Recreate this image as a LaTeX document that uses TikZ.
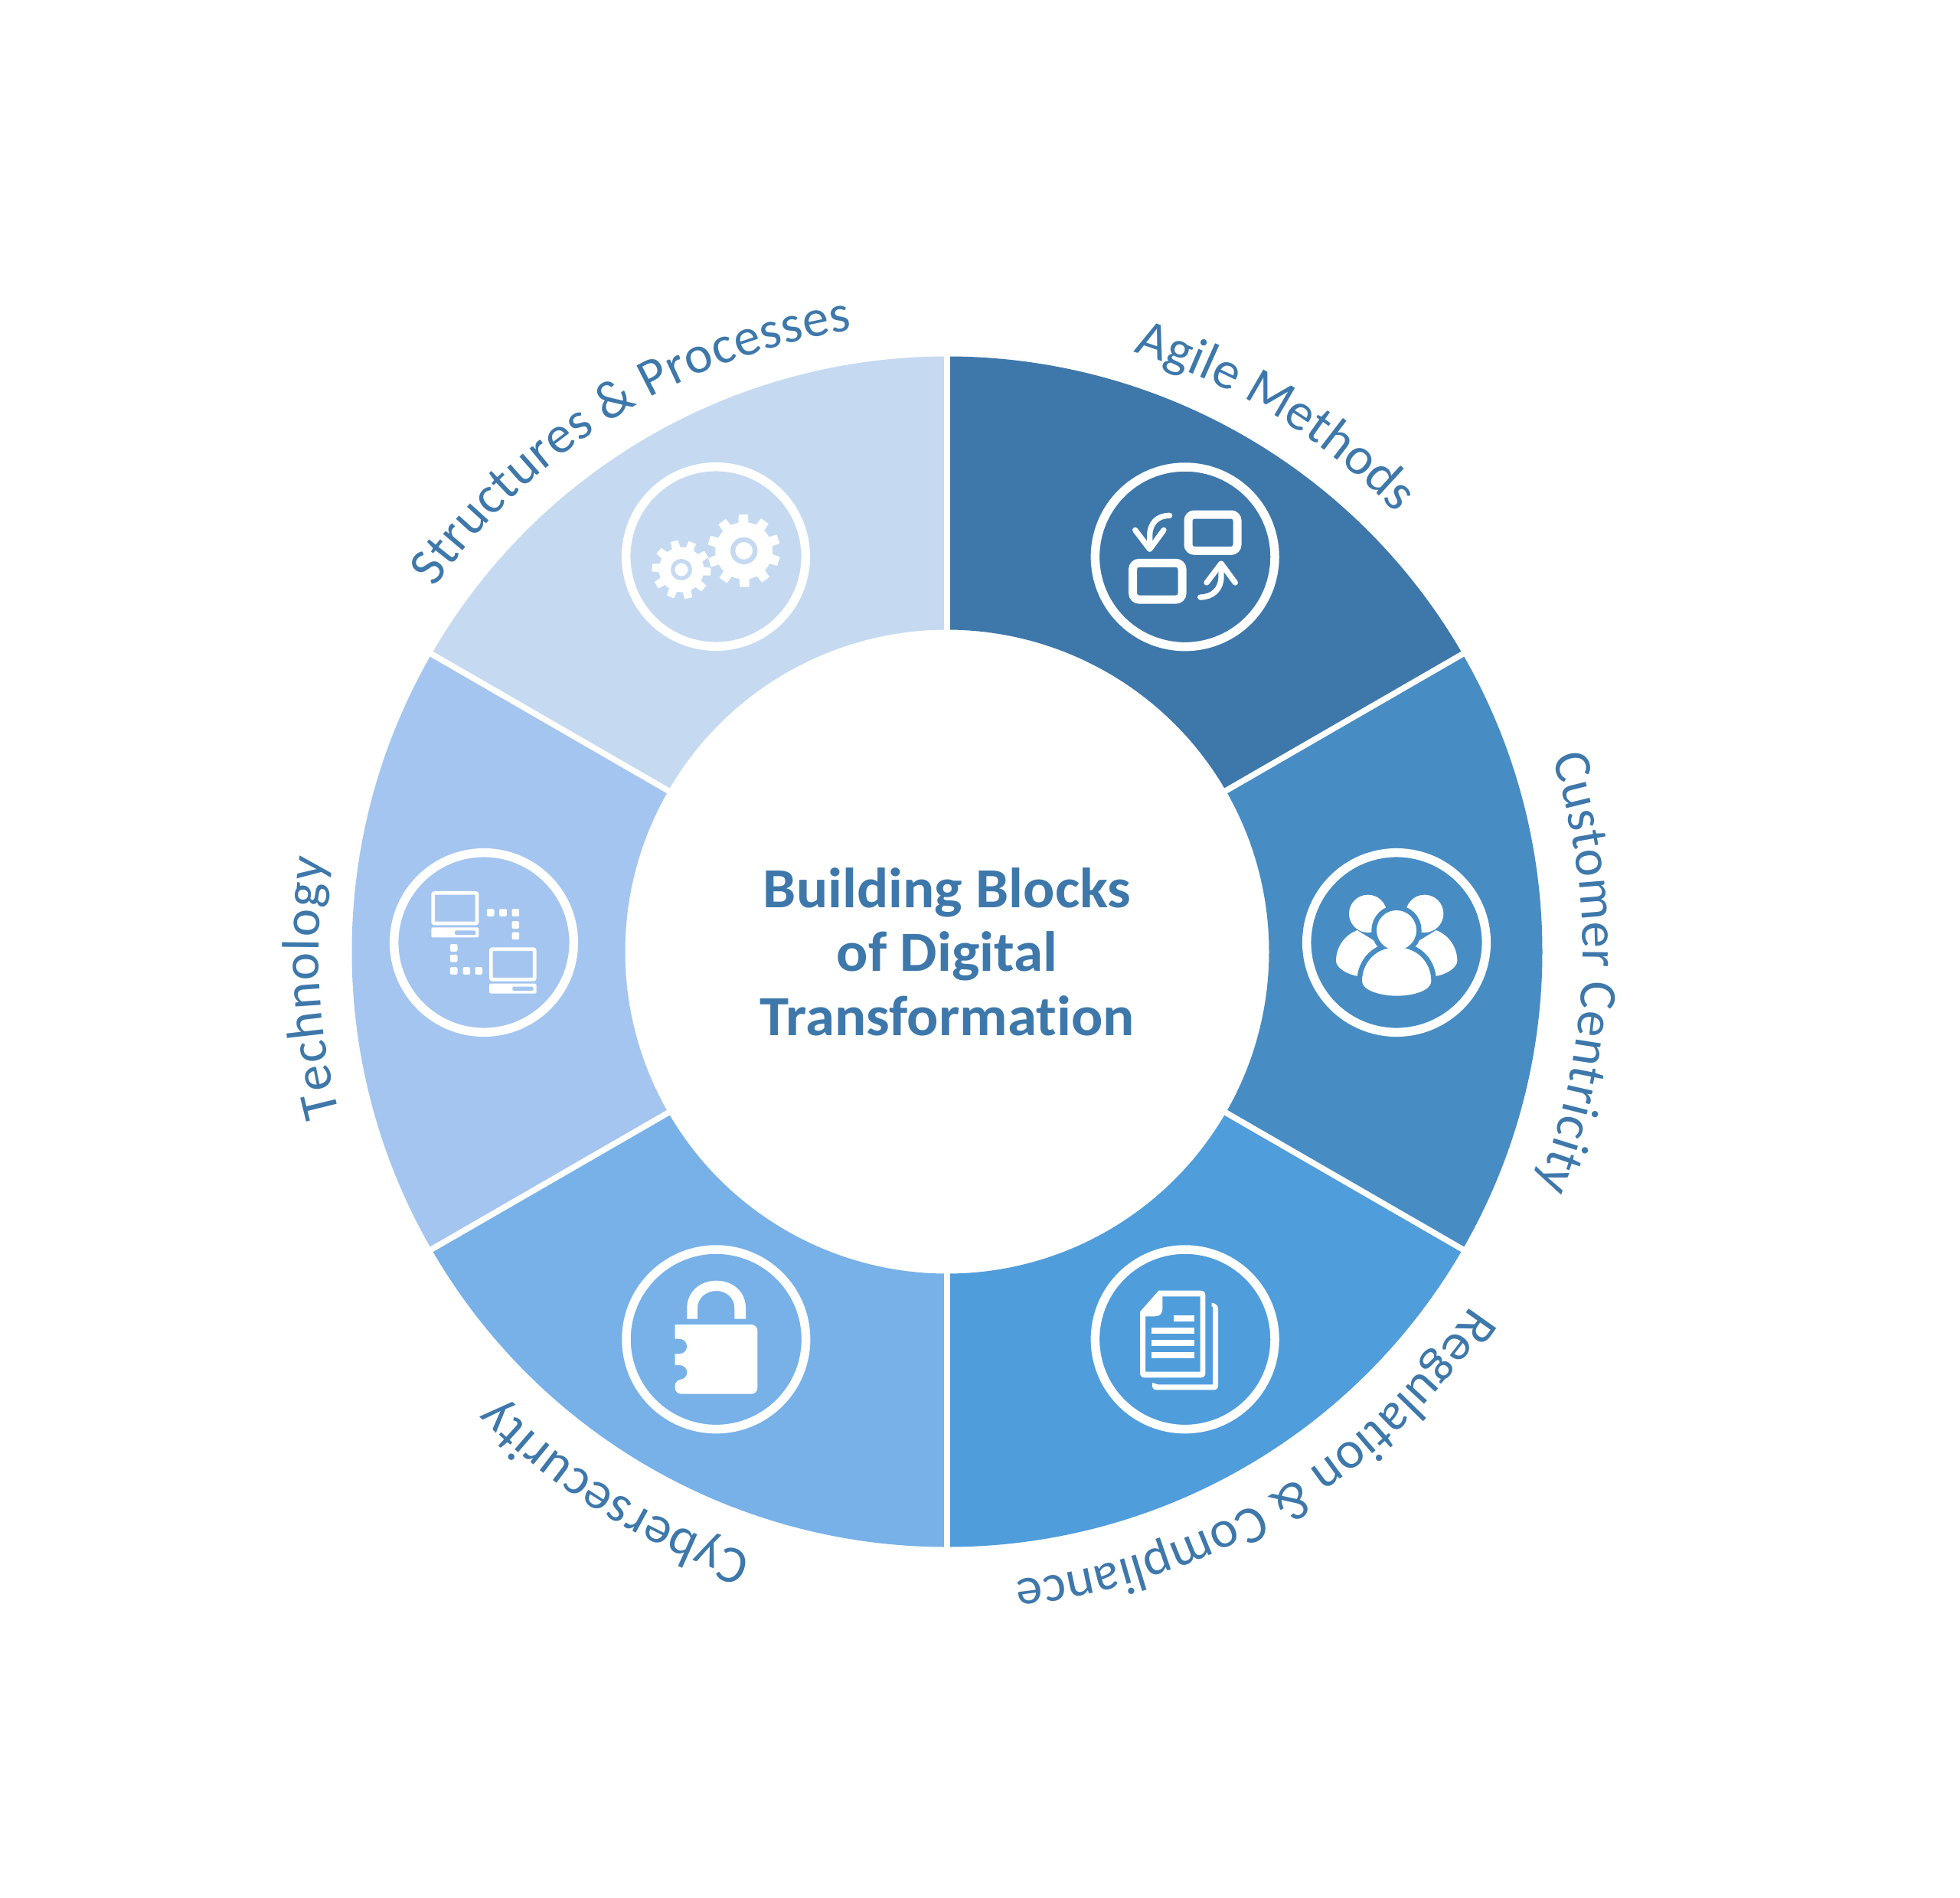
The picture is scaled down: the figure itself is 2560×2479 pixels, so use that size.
\documentclass[tikz,border=0pt]{standalone}
\usepackage{fontspec}
\setmainfont[Ligatures=NoCommon]{Carlito}
\newfontfamily\titlefont[Ligatures=NoCommon,FakeStretch=1.04]{Carlito}
\usetikzlibrary{decorations.text}
\definecolor{ink}{HTML}{3E78AB}
\definecolor{segA}{HTML}{3E78AB}
\definecolor{segB}{HTML}{478DC4}
\definecolor{segC}{HTML}{509DDC}
\definecolor{segD}{HTML}{77B1E8}
\definecolor{segE}{HTML}{A4C5EF}
\definecolor{segF}{HTML}{C5DAF1}
\newcommand{\lblfont}{\fontsize{69}{69}\selectfont}
\newcommand{\sector}[3]{%
  \fill[#3] ({1237+777.5*cos(#1)},{1243+777.5*sin(#1)}) arc[start angle=#1,end angle=#2,radius=777.5]
    -- ({1237+420.5*cos(#2)},{1243+420.5*sin(#2)}) arc[start angle=#2,end angle=#1,radius=420.5] -- cycle;}
\newcommand{\gapline}[1]{%
  \draw[white,line width=7.7] ({1237+410*cos(#1)},{1243+410*sin(#1)}) -- ({1237+790*cos(#1)},{1243+790*sin(#1)});}
\newcommand{\arclabel}[4]{%
  \path[decorate,decoration={text along path,text format delimiters={|}{|},text align=fit to path,
     text={|\lblfont\color{ink}|#4}}]
     ({1237+#3*cos(#1)},{1243+#3*sin(#1)}) arc[start angle=#1,end angle=#2,radius=#3];}
\tikzset{
  ring/.style={circle,draw=white,line width=11.5,minimum size=234.6,inner sep=0,fill=none},
  zoomed/.style={x=0.33333pt,y=-0.33333pt},
  title/.style={text=ink,align=center,font=\titlefont\fontsize{74}{83.7}\selectfont\bfseries,inner sep=0},
  arrowline/.style={white,line width=7.3,line cap=round,line join=round}
}
\begin{document}
\begin{tikzpicture}[x=1pt,y=-1pt]
\useasboundingbox (0,0) rectangle (2560,2479);
\fill[white] (0,0) rectangle (2560,2479);
% ring
\sector{-90}{-30}{segA}
\sector{-30}{30}{segB}
\sector{30}{90}{segC}
\sector{90}{150}{segD}
\sector{150}{210}{segE}
\sector{210}{270}{segF}
\foreach \a in {-90,-30,30,90,150,210} {\gapline{\a}}
% title
\node[title] (centre) at (1237,1243) {Building Blocks\\of Digital\\Transformation};
% labels
\arclabel{-72.7}{-45}{820}{Agile Methods}
\arclabel{-17.8}{21.7}{830}{Customer Centricity}
\arclabel{34}{83.8}{826}{Regulation {\&} Compliance}
\arclabel{108}{135.2}{828}{Cybersecurity}
\arclabel{165}{188.5}{821}{Technology}
\arclabel{215.4}{261.3}{821}{Structures {\&} Processes}
% rings
\node[ring] (agile) at (1547.7,727.3) {};
\node[ring] (customer) at (1824,1231) {};
\node[ring] (regulation) at (1547.7,1749.3) {};
\node[ring] (cyber) at (935.3,1749.3) {};
\node[ring] (tech) at (632,1231) {};
\node[ring] (structures) at (935,727) {};
% agile icon
\begin{scope}[shift={(1380,560)},zoomed]
  \draw[white,line width=11,rounded corners=8] (516,336) rectangle (708,478);
  \draw[white,line width=11,rounded corners=8] (299,526) rectangle (492,669);
  \draw[arrowline] (443,340) .. controls (395,340) and (365,370) .. (365,420) -- (365,470);
  \draw[arrowline] (308,397) -- (365,472) -- (420,397);
  \draw[arrowline] (563,660) .. controls (610,660) and (645,630) .. (645,580) -- (645,530);
  \draw[arrowline] (588,603) -- (645,528) -- (700,603);
\end{scope}
% customer icon
\begin{scope}[shift={(1670,1080)},zoomed]
  \fill[white] (350,340) circle[radius=74];
  \fill[white] (572,340) circle[radius=74];
  \fill[white] (308,405) .. controls (255,425) and (225,475) .. (225,525)
     .. controls (225,550) and (265,578) .. (312,585) -- (462,500) -- cycle;
  \fill[white] (617,405) .. controls (670,425) and (700,475) .. (700,525)
     .. controls (700,550) and (660,578) .. (615,585) -- (462,500) -- cycle;
  \draw[segB,line width=13.3] (462,405) circle[radius=78];
  \draw[segB,line width=13.3,line join=round] (428,476) .. controls (365,490) and (327,545) .. (327,605)
     .. controls (327,640) and (400,662) .. (462,662) .. controls (530,662) and (598,640) .. (598,605)
     .. controls (598,545) and (560,490) .. (497,476) -- cycle;
  \fill[white] (462,405) circle[radius=78];
  \fill[white] (428,476) .. controls (365,490) and (327,545) .. (327,605)
     .. controls (327,640) and (400,662) .. (462,662) .. controls (530,662) and (598,640) .. (598,605)
     .. controls (598,545) and (560,490) .. (497,476) -- cycle;
\end{scope}
% regulation icon
\begin{scope}[shift={(1380,1600)},zoomed]
  \fill[white,even odd rule]
     (327,340) -- (400,257) -- (565,257) .. controls (577,257) and (583,265) .. (583,275)
     -- (583,580) .. controls (583,592) and (575,598) .. (565,598)
     -- (345,598) .. controls (335,598) and (327,592) .. (327,580) -- cycle
     (348,358) -- (385,358) .. controls (405,358) and (415,345) .. (415,330)
     -- (415,280) -- (563,280) -- (563,575) -- (348,575) -- cycle;
  \fill[white] (458,353) rectangle (539,377);
  \fill[white] (371,402) rectangle (539,426);
  \fill[white] (371,450) rectangle (539,474);
  \fill[white] (373,498) rectangle (541,522);
  \fill[white] (608,305) .. controls (625,307) and (633,316) .. (633,330) -- (633,628)
     .. controls (633,640) and (626,646) .. (616,646) -- (392,646)
     .. controls (382,646) and (375,640) .. (375,630) -- (375,618)
     .. controls (382,618) and (390,625) .. (398,625) -- (612,625) -- (612,320) -- (608,320) -- cycle;
\end{scope}
% lock icon
\begin{scope}[shift={(780,1600)},zoomed]
  \fill[white] (352,368) -- (352,325) .. controls (352,260) and (405,218) .. (467,218)
     .. controls (530,218) and (582,260) .. (582,325) -- (582,368) -- (538,368) -- (538,325)
     .. controls (538,285) and (505,258) .. (467,258) .. controls (428,258) and (393,285) .. (393,325)
     -- (393,368) -- cycle;
  \fill[white,rounded corners=8] (305,390) -- (628,390) -- (628,662) -- (305,662) -- (305,606)
     [sharp corners] -- (335,606) [rounded corners=10] -- (353,606) -- (353,549) [sharp corners] -- (305,549) -- (305,505)
     -- (335,505) [rounded corners=10] -- (352,505) -- (352,446) [sharp corners] -- (305,446) -- cycle;
\end{scope}
% tech icon
\begin{scope}[shift={(480,1080)},zoomed]
  \draw[white,line width=4.7,rounded corners=2] (257,259) rectangle (429,378);
  \fill[white,rounded corners=2] (250,394) rectangle (436,433);
  \fill[segE,rounded corners=2] (342,406) rectangle (424,423);
  \draw[white,line width=4.7,rounded corners=2] (484,479) rectangle (655,598);
  \fill[white,rounded corners=2] (477,614) rectangle (662,653);
  \fill[segE,rounded corners=2] (568,626) rectangle (650,642);
  \foreach \p in {(482,336),(531,336),(580,336),(580,384),(580,427),(338,474),(338,515),(338,564),(388,564),(436,564)}
    {\fill[white,rounded corners=2,shift={\p}] (-14.5,-14.5) rectangle (14.5,14.5);}
\end{scope}
% gears icon
\begin{scope}[shift={(780,560)},zoomed]
  \begin{scope}[shift={(575,478)}]
    \fill[white] (0,0) circle[radius=112];
    \foreach \k in {0,...,9}
      {\fill[white,rotate=1+36*\k] (-20,-95) -- (-18,-142) -- (18,-142) -- (20,-95) -- cycle;}
    \draw[segF,line width=6.3] (0,0) circle[radius=43.5];
  \end{scope}
  \begin{scope}[shift={(330,552)}]
    \fill[white] (0,0) circle[radius=88];
    \foreach \k in {0,...,9}
      {\fill[white,rotate=14+36*\k] (-17,-75) -- (-15,-115) -- (15,-115) -- (17,-75) -- cycle;}
    \draw[segF,line width=5.3] (0,0) circle[radius=34];
  \end{scope}
\end{scope}
\end{tikzpicture}
\end{document}
